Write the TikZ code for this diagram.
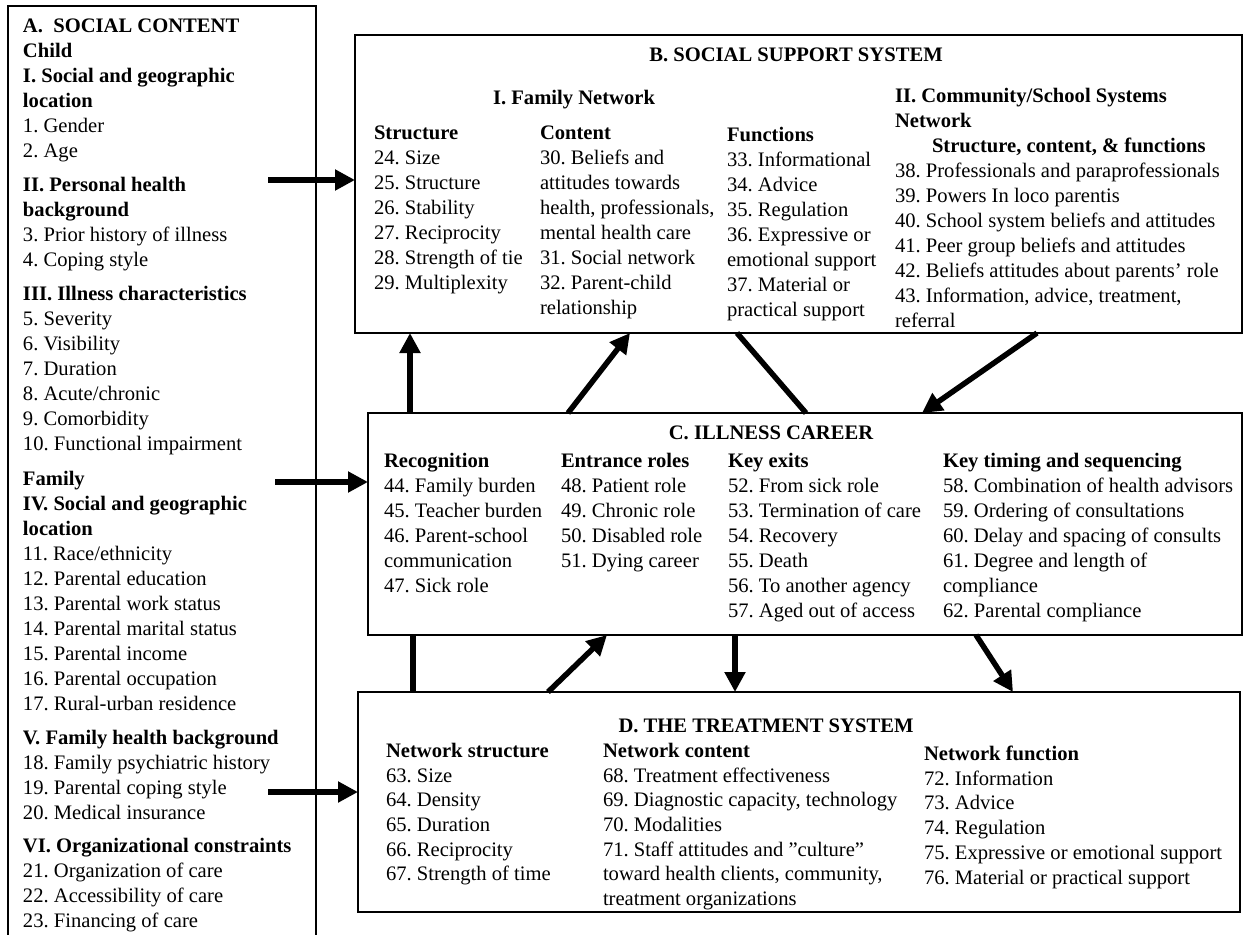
\documentclass[tikz,border=0pt]{standalone}
\usepackage{fontspec}
\setmainfont{Liberation Serif}
\usetikzlibrary{arrows.meta}
\frenchspacing
\begin{document}
\begin{tikzpicture}[x=1pt,y=-1pt,
  every node/.style={inner sep=0pt, outer sep=0pt},
  col/.style={anchor=north west, align=left, font=\fontsize{20.6}{25}\selectfont\frenchspacing},
  ttl/.style={anchor=base, font=\fontsize{20.6}{25}\selectfont\bfseries},
  box/.style={draw, line width=2.6pt, anchor=north west},
  arr/.style={line width=5.5pt, -{Triangle[length=20pt,width=20pt]}},
  ln/.style={line width=5.5pt},
]
\useasboundingbox (0,0) rectangle (1244,934);

% boxes
\node[box, minimum width=887pt, minimum height=298pt] (B) at (355,35) {};
\node[box, minimum width=874pt, minimum height=222pt] (C) at (368,413) {};
\node[box, minimum width=882pt, minimum height=220pt] (D) at (358,692) {};
\draw[line width=2pt] (8,940) -- (8,6) -- (316,6) -- (316,940);

% A
\node[col] (Atxt) at (23,18.5) {\textbf{A.\enspace SOCIAL CONTENT}\\
\textbf{Child}\\
\textbf{I. Social and geographic}\\
\textbf{location}\\
1. Gender\\
2. Age\\[9pt]
\textbf{II. Personal health}\\
\textbf{background}\\
3. Prior history of illness\\
4. Coping style\\[9pt]
\textbf{III. Illness characteristics}\\
5. Severity\\
6. Visibility\\
7. Duration\\
8. Acute/chronic\\
9. Comorbidity\\
10. Functional impairment\\[10pt]
\textbf{Family}\\
\textbf{IV. Social and geographic}\\
\textbf{location}\\
11. Race/ethnicity\\
12. Parental education\\
13. Parental work status\\
14. Parental marital status\\
15. Parental income\\
16. Parental occupation\\
17. Rural-urban residence\\[9pt]
\textbf{V. Family health background}\\
18. Family psychiatric history\\
19. Parental coping style\\
20. Medical insurance\\[8pt]
\textbf{VI. Organizational constraints}\\
21. Organization of care\\
22. Accessibility of care\\
23. Financing of care};

% B
\node[ttl] (Bt) at (796,62) {B. SOCIAL SUPPORT SYSTEM};
\node[ttl] (Bfam) at (574,104) {I. Family Network};
\node[col] (Bs) at (374,126) {\textbf{Structure}\\
24. Size\\
25. Structure\\
26. Stability\\
27. Reciprocity\\
28. Strength of tie\\
29. Multiplexity};
\node[col] (Bc) at (540,126) {\textbf{Content}\\
30. Beliefs and\\
attitudes towards\\
health, professionals,\\
mental health care\\
31. Social network\\
32. Parent-child\\
relationship};
\node[col] (Bf) at (727,127) {\textbf{Functions}\\
33. Informational\\
34. Advice\\
35. Regulation\\
36. Expressive or\\
emotional support\\
37. Material or\\
practical support};
\node[col] (Bcom) at (895,88) {\textbf{II. Community/School Systems}\\
\textbf{Network}\\
\hspace*{37pt}\textbf{Structure, content, \& functions}\\
38. Professionals and paraprofessionals\\
39. Powers In loco parentis\\
40. School system beliefs and attitudes\\
41. Peer group beliefs and attitudes\\
42. Beliefs attitudes about parents’ role\\
43. Information, advice, treatment,\\
referral};

% C
\node[ttl] (Ct) at (771,439.5) {C. ILLNESS CAREER};
\node[col] (Cr) at (384,453) {\textbf{Recognition}\\
44. Family burden\\
45. Teacher burden\\
46. Parent-school\\
communication\\
47. Sick role};
\node[col] (Ce) at (561,453) {\textbf{Entrance roles}\\
48. Patient role\\
49. Chronic role\\
50. Disabled role\\
51. Dying career};
\node[col] (Ck) at (728,453) {\textbf{Key exits}\\
52. From sick role\\
53. Termination of care\\
54. Recovery\\
55. Death\\
56. To another agency\\
57. Aged out of access};
\node[col] (Cti) at (943,453) {\textbf{Key timing and sequencing}\\
58. Combination of health advisors\\
59. Ordering of consultations\\
60. Delay and spacing of consults\\
61. Degree and length of\\
compliance\\
62. Parental compliance};

% D
\node[ttl] (Dt) at (766,732) {D. THE TREATMENT SYSTEM};
\node[col, font=\fontsize{20.6}{24.7}\selectfont\frenchspacing] (Ds) at (386,743) {\textbf{Network structure}\\
63. Size\\
64. Density\\
65. Duration\\
66. Reciprocity\\
67. Strength of time};
\node[col, font=\fontsize{20.6}{24.7}\selectfont\frenchspacing] (Dc) at (603,743) {\textbf{Network content}\\
68. Treatment effectiveness\\
69. Diagnostic capacity, technology\\
70. Modalities\\
71. Staff attitudes and ”culture”\\
toward health clients, community,\\
treatment organizations};
\node[col, font=\fontsize{20.6}{24.7}\selectfont\frenchspacing] (Df) at (924,746) {\textbf{Network function}\\
72. Information\\
73. Advice\\
74. Regulation\\
75. Expressive or emotional support\\
76. Material or practical support};

% connectors from A
\coordinate (a1) at (268,180);
\coordinate (a2) at (275,482);
\coordinate (a3) at (268,792);
\draw[arr] (a1) -- (a1 -| B.west);
\draw[arr] (a2) -- (a2 -| C.west);
\draw[arr] (a3) -- (a3 -| D.west);

% B <-> C
\draw[arr] ([xshift=42pt]C.north west) -- ([xshift=55pt]B.south west);
\draw[arr] ([xshift=200pt]C.north west) -- ([xshift=275pt]B.south west);
\draw[ln] ([xshift=382pt]B.south west) -- ([xshift=438pt]C.north west);
\draw[arr] ([xshift=682pt]B.south west) -- ([xshift=554pt]C.north west);

% C <-> D
\draw[ln] ([xshift=45pt]C.south west) -- ([xshift=55pt]D.north west);
\draw[arr] ([xshift=190pt]D.north west) -- ([xshift=239pt]C.south west);
\draw[arr] ([xshift=367pt]C.south west) -- ([xshift=377pt]D.north west);
\draw[arr] ([xshift=608pt]C.south west) -- ([xshift=655pt]D.north west);
\end{tikzpicture}
\end{document}
